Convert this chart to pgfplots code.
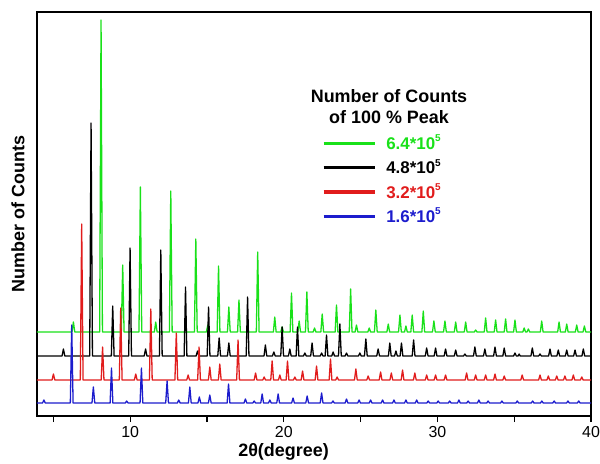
\documentclass[border=0pt]{standalone}
\usepackage{fontspec}
\setmainfont{Liberation Sans}
\usepackage{pgfplots}
\pgfplotsset{compat=1.18}
\definecolor{cgreen}{RGB}{25,225,25}
\definecolor{cred}{RGB}{225,28,28}
\definecolor{cblue}{RGB}{28,28,205}
\newcommand{\sfive}{\raisebox{7.5bp}{\fontsize{10}{10}\selectfont 5}}
\begin{document}
\begin{tikzpicture}
\begin{axis}[
  scale only axis, width=554bp, height=404bp,
  xmin=3.93, xmax=40, ymin=0, ymax=404,
  ytick=\empty,
  xtick={10,20,30,40}, minor xtick={5,15,25,35},
  xtick pos=bottom, tick align=outside,
  major tick length=6bp, minor tick length=6bp,
  every tick/.style={black, line width=1.2bp},
  axis line style={line width=1.3bp},
  /pgf/number format/assume math mode=true,
  tick label style={font=\fontsize{16}{16}\selectfont},
  xticklabel style={yshift=-1bp},
  xlabel={\textbf{2θ(degree)}},
  xlabel style={font=\fontsize{18}{18}\selectfont, at={(axis description cs:0.445,-0.089)}, anchor=center},
  ylabel={Number of Counts},
  ylabel style={font=\bfseries\fontsize{18}{18}\selectfont, at={(axis description cs:-0.0343,0.5)}, anchor=center},
  legend style={at={(axis description cs:0.514,0.692)}, anchor=north west, draw=none, fill=none,
    inner sep=0pt, outer sep=0pt, row sep=10.3bp,
    font=\bfseries\fontsize{17}{17}\selectfont,
    nodes={inner sep=1bp, text height=12bp, text depth=0bp},
    /tikz/every odd column/.append style={column sep=9bp}},
  legend cell align=left,
  legend image code/.code={\draw[#1, line width=3.5bp] (0bp,0bp) -- (51bp,0bp);},
  every axis plot/.append style={line width=1.3bp, line join=round},
]
\addplot[cgreen, mark=none] coordinates {
(3.93,84)(6.21,84)(6.30,94)(6.39,84)(8.01,84)(8.10,396)(8.19,84)(9.42,84)(9.51,151)(9.60,84)
(10.57,84)(10.66,229)(10.75,84)(11.57,84)(11.66,94)(11.75,84)(12.55,84)(12.64,225)(12.73,84)
(14.18,84)(14.27,177)(14.36,84)(14.96,84)(15.05,91)(15.14,84)(15.66,84)(15.75,150)(15.84,84)
(16.33,84)(16.42,109)(16.51,84)(16.99,84)(17.08,116)(17.17,84)(18.21,84)(18.30,164)(18.39,84)
(19.32,84)(19.41,99)(19.50,84)(19.80,84)(19.89,89)(19.98,84)(20.41,84)(20.50,123)(20.59,84)
(20.91,84)(21.00,95)(21.09,84)(21.41,84)(21.50,124)(21.59,84)(21.91,84)(22.00,88)(22.09,84)
(22.41,84)(22.50,102)(22.59,84)(23.34,84)(23.43,111)(23.52,84)(24.26,84)(24.35,127)(24.44,84)
(24.64,84)(24.73,91)(24.82,84)(25.47,84)(25.56,88)(25.65,84)(25.90,84)(25.99,106)(26.08,84)
(26.71,84)(26.80,92)(26.89,84)(27.47,84)(27.56,101)(27.65,84)(27.86,84)(27.95,90)(28.04,84)
(28.27,84)(28.36,101)(28.45,84)(28.99,84)(29.08,105)(29.17,84)(29.68,84)(29.77,95)(29.86,84)
(30.40,84)(30.49,95)(30.58,84)(31.10,84)(31.19,94)(31.28,84)(31.75,84)(31.84,94)(31.93,84)
(32.40,84)(32.49,86)(32.58,84)(33.05,84)(33.14,98)(33.23,84)(33.70,84)(33.79,96)(33.88,84)
(34.35,84)(34.44,97)(34.53,84)(34.96,84)(35.05,96)(35.14,84)(35.56,84)(35.65,88)(35.74,84)
(35.83,84)(35.92,87)(36.01,84)(36.70,84)(36.79,95)(36.88,84)(37.83,84)(37.92,94)(38.01,84)
(38.33,84)(38.42,92)(38.51,84)(38.98,84)(39.07,91)(39.16,84)(39.48,84)(39.57,90)(39.66,84)(40,84)
};
\addlegendentry{\textcolor{cgreen}{6.4*10\sfive}}
\addplot[black, mark=none] coordinates {
(3.93,60)(5.56,60)(5.65,67)(5.74,60)(7.36,60)(7.45,293)(7.54,60)(8.77,60)(8.86,110)(8.95,60)
(9.90,60)(9.99,168)(10.08,60)(10.91,60)(11.00,67)(11.09,60)(11.90,60)(11.99,166)(12.08,60)
(13.51,60)(13.60,129)(13.69,60)(14.29,60)(14.38,65)(14.47,60)(15.01,60)(15.10,109)(15.19,60)
(15.70,60)(15.79,78)(15.88,60)(16.33,60)(16.42,73)(16.51,60)(17.55,60)(17.64,119)(17.73,60)
(18.71,60)(18.80,71)(18.89,60)(19.26,60)(19.35,64)(19.44,60)(19.80,60)(19.89,89)(19.98,60)
(20.30,60)(20.39,67)(20.48,60)(20.80,60)(20.89,89)(20.98,60)(21.28,60)(21.37,63)(21.46,60)
(21.75,60)(21.84,73)(21.93,60)(22.37,60)(22.46,63)(22.55,60)(22.69,60)(22.78,81)(22.87,60)
(23.12,60)(23.21,64)(23.30,60)(23.56,60)(23.65,92)(23.74,60)(23.99,60)(24.08,63)(24.17,60)
(24.86,60)(24.95,63)(25.04,60)(25.25,60)(25.34,77)(25.43,60)(26.05,60)(26.14,67)(26.23,60)
(26.81,60)(26.90,73)(26.99,60)(27.21,60)(27.30,65)(27.39,60)(27.57,60)(27.66,73)(27.75,60)
(28.36,60)(28.45,76)(28.54,60)(29.21,60)(29.30,68)(29.39,60)(29.79,60)(29.88,68)(29.97,60)
(30.44,60)(30.53,67)(30.62,60)(31.10,60)(31.19,66)(31.28,60)(31.70,60)(31.79,62)(31.88,60)
(32.35,60)(32.44,69)(32.53,60)(33.00,60)(33.09,67)(33.18,60)(33.66,60)(33.75,69)(33.84,60)
(34.26,60)(34.35,68)(34.44,60)(34.96,60)(35.05,63)(35.14,60)(35.25,60)(35.32,62)(35.39,60)
(36.09,60)(36.18,68)(36.27,60)(36.59,60)(36.68,62)(36.77,60)(37.24,60)(37.33,67)(37.42,60)
(37.78,60)(37.87,66)(37.96,60)(38.33,60)(38.42,66)(38.51,60)(38.87,60)(38.96,66)(39.05,60)
(39.41,60)(39.50,67)(39.59,60)(40,60)
};
\addlegendentry{\textcolor{black}{4.8*10\sfive}}
\addplot[cred, mark=none] coordinates {
(3.93,36)(4.91,36)(5.00,42)(5.09,36)(6.75,36)(6.84,192)(6.93,36)(8.11,36)(8.20,69)(8.29,36)
(9.29,36)(9.38,108)(9.47,36)(10.27,36)(10.36,42)(10.45,36)(11.25,36)(11.34,107)(11.43,36)
(12.91,36)(13.00,83)(13.09,36)(13.68,36)(13.77,41)(13.86,36)(14.39,36)(14.48,69)(14.57,36)
(15.09,36)(15.18,49)(15.27,36)(15.74,36)(15.83,52)(15.92,36)(16.93,36)(17.02,76)(17.11,36)
(18.07,36)(18.16,43)(18.25,36)(18.63,36)(18.72,39)(18.81,36)(19.15,36)(19.24,55)(19.33,36)
(19.65,36)(19.74,41)(19.83,36)(20.15,36)(20.24,55)(20.33,36)(20.63,36)(20.72,39)(20.81,36)
(21.13,36)(21.22,45)(21.31,36)(22.04,36)(22.13,50)(22.22,36)(22.95,36)(23.04,57)(23.13,36)
(23.38,36)(23.47,39)(23.56,36)(24.60,36)(24.69,47)(24.78,36)(25.40,36)(25.49,40)(25.58,36)
(26.21,36)(26.30,44)(26.39,36)(26.91,36)(27.00,43)(27.09,36)(27.64,36)(27.73,46)(27.82,36)
(28.44,36)(28.53,43)(28.62,36)(29.21,36)(29.30,41)(29.39,36)(29.79,36)(29.88,41)(29.97,36)
(30.44,36)(30.53,41)(30.62,36)(31.81,36)(31.90,43)(31.99,36)(32.40,36)(32.49,41)(32.58,36)
(33.05,36)(33.14,41)(33.23,36)(33.66,36)(33.75,42)(33.84,36)(34.26,36)(34.35,40)(34.44,36)
(35.43,36)(35.52,41)(35.61,36)(36.59,36)(36.68,41)(36.77,36)(37.13,36)(37.22,40)(37.31,36)
(37.68,36)(37.77,40)(37.86,36)(38.21,36)(38.30,40)(38.39,36)(38.76,36)(38.85,41)(38.94,36)
(39.31,36)(39.40,39)(39.49,36)(40,36)
};
\addlegendentry{\textcolor{cred}{3.2*10\sfive}}
\addplot[cblue, mark=none] coordinates {
(3.93,13)(4.29,13)(4.38,16)(4.47,13)(6.10,13)(6.19,91)(6.28,13)(7.51,13)(7.60,29)(7.69,13)
(8.69,13)(8.78,48)(8.87,13)(9.68,13)(9.77,15)(9.86,13)(10.64,13)(10.73,48)(10.82,13)
(12.31,13)(12.40,35)(12.49,13)(13.07,13)(13.16,16)(13.25,13)(13.79,13)(13.88,29)(13.97,13)
(14.41,13)(14.50,19)(14.59,13)(15.09,13)(15.18,21)(15.27,13)(16.31,13)(16.40,32)(16.49,13)
(17.41,13)(17.50,17)(17.59,13)(17.98,13)(18.07,15)(18.16,13)(18.50,13)(18.59,22)(18.68,13)
(19.00,13)(19.09,16)(19.18,13)(19.54,13)(19.63,22)(19.72,13)(20.51,13)(20.60,18)(20.69,13)
(21.43,13)(21.52,20)(21.61,13)(22.37,13)(22.46,23)(22.55,13)(23.11,13)(23.20,15)(23.29,13)
(23.99,13)(24.08,17)(24.17,13)(24.81,13)(24.90,16)(24.99,13)(25.56,13)(25.65,16)(25.74,13)
(26.34,13)(26.43,16)(26.52,13)(27.08,13)(27.17,16)(27.26,13)(27.86,13)(27.95,16)(28.04,13)
(28.56,13)(28.65,16)(28.74,13)(29.31,13)(29.40,15)(29.49,13)(29.96,13)(30.05,15)(30.14,13)
(30.71,13)(30.80,15)(30.89,13)(31.31,13)(31.40,16)(31.49,13)(31.91,13)(32.00,15)(32.09,13)
(32.61,13)(32.70,16)(32.79,13)(33.21,13)(33.30,15)(33.39,13)(34.11,13)(34.20,15)(34.29,13)
(35.11,13)(35.20,15)(35.29,13)(36.11,13)(36.20,15)(36.29,13)(36.71,13)(36.80,15)(36.89,13)
(37.51,13)(37.60,15)(37.69,13)(38.41,13)(38.50,15)(38.59,13)(39.11,13)(39.20,15)(39.29,13)(40,13)
};
\addlegendentry{\textcolor{cblue}{1.6*10\sfive}}
\node[font=\bfseries\fontsize{18}{21.3}\selectfont, align=center] at (axis description cs:0.6354,0.765) {Number of Counts\\of 100 \% Peak};
\end{axis}
\pgfresetboundingbox
\path ([shift={(-37bp,-48bp)}]current axis.south west) rectangle ([shift={(9bp,12bp)}]current axis.north east);
\end{tikzpicture}
\end{document}
